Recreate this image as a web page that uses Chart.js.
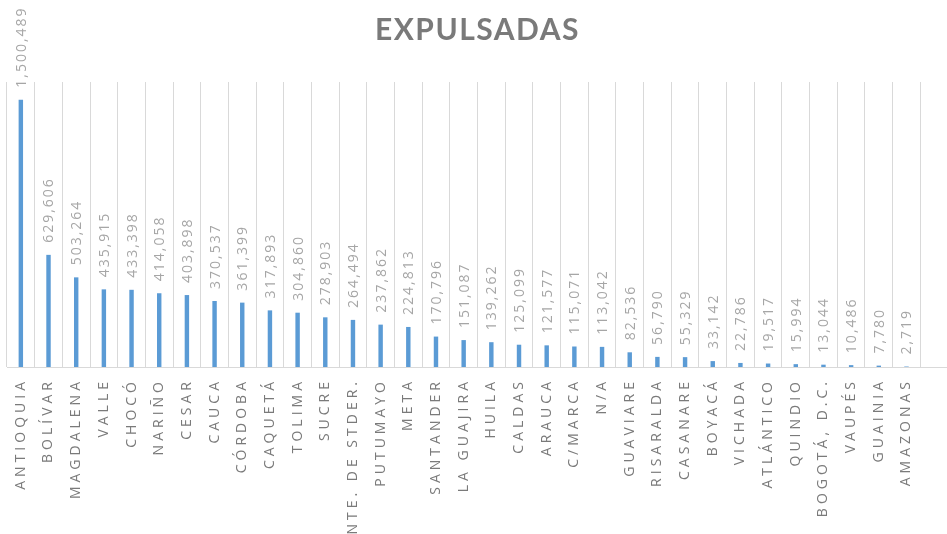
<!DOCTYPE html>
<html>
<head>
<meta charset="utf-8">
<script src="https://cdn.jsdelivr.net/npm/chart.js@4/dist/chart.umd.min.js"></script>
<style>
  html, body { margin: 0; padding: 0; background: #ffffff; overflow: hidden; }
  #wrap { width: 947px; height: 534px; overflow: hidden; position: relative; }
  canvas { display: block; }
</style>
</head>
<body>
<div id="wrap"><canvas id="c" width="950" height="534"></canvas></div>
<script>
const categories = ['ANTIOQUIA','BOLÍVAR','MAGDALENA','VALLE','CHOCÓ','NARIÑO','CESAR','CAUCA','CÓRDOBA','CAQUETÁ','TOLIMA','SUCRE','NTE. DE STDER.','PUTUMAYO','META','SANTANDER','LA GUAJIRA','HUILA','CALDAS','ARAUCA','C/MARCA','N/A','GUAVIARE','RISARALDA','CASANARE','BOYACÁ','VICHADA','ATLÁNTICO','QUINDIO','BOGOTÁ, D.C.','VAUPÉS','GUAINIA','AMAZONAS',''];
const expulsadas = [1500489,629606,503264,435915,433398,414058,403898,370537,361399,317893,304860,278903,264494,237862,224813,170796,151087,139262,125099,121577,115071,113042,82536,56790,55329,33142,22786,19517,15994,13044,10486,7780,2719,null];
const chartTitle = 'EXPULSADAS';

const spacingPlugin = {
  id: 'spacing',
  beforeDraw(chart) { chart.ctx.letterSpacing = '1.5px'; },
  afterDatasetsDraw(chart) {
    const ctx = chart.ctx;
    const meta = chart.getDatasetMeta(0);
    ctx.save();
    ctx.letterSpacing = '2px';
    ctx.font = '14px "Open Sans"';
    ctx.fillStyle = '#a6a6a6';
    ctx.textAlign = 'left';
    ctx.textBaseline = 'middle';
    meta.data.forEach((bar, i) => {
      const v = expulsadas[i];
      if (v == null) return;
      ctx.save();
      ctx.translate(bar.x + 1, bar.y - 12);
      ctx.rotate(-Math.PI / 2);
      ctx.fillText(v.toLocaleString('en-US'), 0, 0);
      ctx.restore();
    });
    ctx.restore();
    ctx.letterSpacing = '4px';
  },
  afterDraw(chart) { chart.ctx.letterSpacing = '0px'; }
};

new Chart(document.getElementById('c'), {
  type: 'bar',
  data: {
    labels: categories,
    datasets: [{
      data: expulsadas,
      backgroundColor: '#5b9bd5',
      borderWidth: 0,
      barPercentage: 0.16,
      categoryPercentage: 1
    }]
  },
  options: {
    responsive: false,
    animation: false,
    devicePixelRatio: 1,
    layout: { padding: { left: 7, right: 2, top: 0, bottom: 0 } },
    plugins: {
      legend: { display: false },
      tooltip: { enabled: false },
      title: {
        display: true,
        text: chartTitle,
        color: '#7a7a7a',
        font: { family: 'Lato', size: 30, weight: 'bold', lineHeight: 1.2 },
        padding: { top: 12, bottom: 34 }
      }
    },
    scales: {
      x: {
        grid: { color: '#d9d9d9', lineWidth: 1, drawTicks: false, offset: true },
        border: { color: '#d9d9d9', width: 1 },
        ticks: {
          z: 1,
          autoSkip: false,
          minRotation: 90,
          maxRotation: 90,
          padding: 11,
          color: '#7a7a7a',
          font: { family: 'Open Sans', size: 14 }
        },
        afterFit(scale) {
          scale.height = 167;
          scale.paddingLeft = 0;
          scale.paddingRight = 0;
        }
      },
      y: {
        display: false,
        min: 0,
        max: 1600000
      }
    }
  },
  plugins: [spacingPlugin]
});
</script>
</body>
</html>
